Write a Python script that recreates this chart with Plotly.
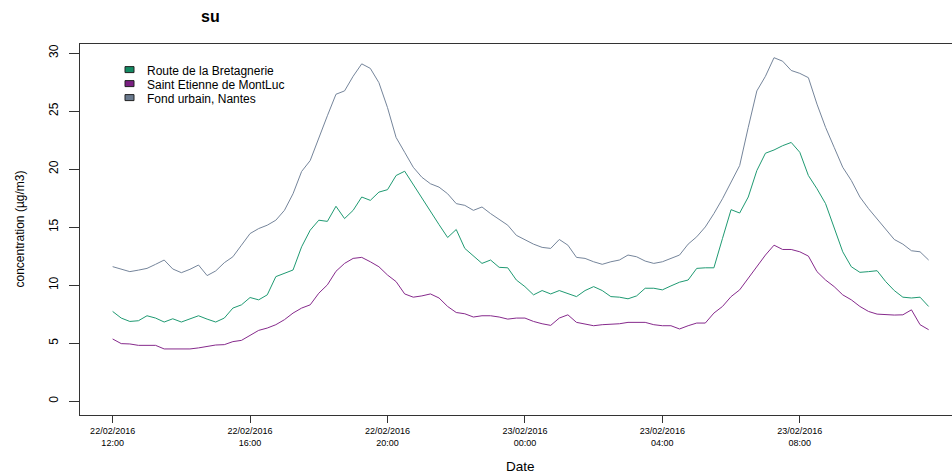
import pandas as pd
import plotly.graph_objects as go

# 15-minute concentrations, 22/02/2016 12:00 -> 23/02/2016 11:45
times = pd.date_range("2016-02-22 12:00", periods=96, freq="15min")

route_bretagnerie = [
    7.74, 7.17, 6.88, 6.94, 7.37, 7.17, 6.83, 7.11, 6.83, 7.08,
    7.37, 7.08, 6.83, 7.17, 8.03, 8.31, 8.94, 8.74, 9.17, 10.74,
    11.03, 11.31, 13.31, 14.74, 15.6, 15.5, 16.8, 15.74, 16.45, 17.6,
    17.31, 18.02, 18.23, 19.45, 19.82, 18.65, 17.54, 16.39, 15.22, 14.11,
    14.8, 13.17, 12.51, 11.88, 12.17, 11.54, 11.5, 10.45, 9.88, 9.17,
    9.54, 9.25, 9.54, 9.25, 9.02, 9.54, 9.88, 9.54, 9.02, 8.97,
    8.83, 9.08, 9.74, 9.74, 9.6, 9.94, 10.26, 10.45, 11.45, 11.5,
    11.5, 14.03, 16.51, 16.22, 17.6, 19.88, 21.37, 21.65, 22.02, 22.3,
    21.45, 19.45, 18.31, 17.03, 15.02, 12.88, 11.59, 11.11, 11.17, 11.25,
    10.31, 9.54, 8.97, 8.9, 8.97, 8.17,
]
saint_etienne = [
    5.37, 4.97, 4.94, 4.82, 4.82, 4.82, 4.51, 4.51, 4.57, 4.51,
    4.6, 4.74, 4.85, 4.88, 5.14, 5.25, 5.65, 6.11, 6.31, 6.6,
    7.03, 7.6, 8.03, 8.31, 9.31, 10.03, 11.2, 11.88, 12.31, 12.4,
    12.02, 11.59, 10.88, 10.31, 9.25, 8.97, 9.08, 9.25, 8.9, 8.17,
    7.65, 7.54, 7.26, 7.37, 7.37, 7.26, 7.08, 7.17, 7.17, 6.88,
    6.68, 6.54, 7.17, 7.45, 6.8, 6.68, 6.51, 6.6, 6.63, 6.68,
    6.8, 6.82, 6.8, 6.6, 6.51, 6.51, 6.23, 6.51, 6.74, 6.74,
    7.6, 8.17, 9.02, 9.6, 10.6, 11.59, 12.6, 13.45, 13.08, 13.08,
    12.88, 12.51, 11.17, 10.45, 9.88, 9.17, 8.74, 8.17, 7.74, 7.51,
    7.45, 7.43, 7.45, 7.88, 6.6, 6.17,
]
fond_urbain = [
    11.6, 11.37, 11.17, 11.3, 11.45, 11.8, 12.17, 11.4, 11.08, 11.37,
    11.74, 10.83, 11.23, 11.94, 12.45, 13.45, 14.45, 14.88, 15.17, 15.6,
    16.45, 17.88, 19.8, 20.74, 22.73, 24.6, 26.45, 26.74, 28.0, 29.07,
    28.68, 27.45, 25.3, 22.73, 21.45, 20.16, 19.3, 18.74, 18.45, 17.88,
    17.03, 16.88, 16.45, 16.74, 16.17, 15.65, 15.17, 14.3, 13.94, 13.54,
    13.26, 13.17, 13.94, 13.45, 12.4, 12.31, 12.02, 11.8, 12.02, 12.17,
    12.6, 12.45, 12.08, 11.88, 12.02, 12.31, 12.6, 13.54, 14.17, 15.02,
    16.17, 17.45, 18.88, 20.31, 23.6, 26.74, 28.0, 29.6, 29.3, 28.5,
    28.25, 27.88, 25.6, 23.6, 21.88, 20.16, 19.02, 17.6, 16.6, 15.74,
    14.88, 13.94, 13.54, 12.97, 12.88, 12.17,
]

series_names = ["Route de la Bretagnerie", "Saint Etienne de MontLuc", "Fond urbain, Nantes"]
series_values = [route_bretagnerie, saint_etienne, fond_urbain]
series_colors = ["#1f9a72", "#862a8c", "#75859b"]
legend_fill = ["#138a63", "#7a1f82", "#6a7a8e"]

tick_times = pd.date_range("2016-02-22 12:00", periods=6, freq="4h")
tick_labels = [t.strftime("%d/%m/%Y") + "<br>" + t.strftime("%H:%M") for t in tick_times]
y_ticks = [0, 5, 10, 15, 20, 25, 30]

FONT = "Liberation Sans, Arial, sans-serif"
AXIS_COLOR = "#333333"

fig = go.Figure()
for name, vals, col in zip(series_names, series_values, series_colors):
    fig.add_trace(go.Scatter(x=times, y=vals, mode="lines", name=name,
                             line=dict(color=col, width=1), showlegend=False))

x_start = times[0] - pd.Timedelta(minutes=57)
x_end = times[0] + pd.Timedelta(hours=24.43)

fig.update_layout(
    width=952, height=473,
    margin=dict(l=80, r=0, t=44, b=58),
    paper_bgcolor="white", plot_bgcolor="white",
    font=dict(family=FONT, color="#000000"),
    xaxis=dict(
        range=[x_start, x_end], tickmode="array", tickvals=tick_times, ticktext=tick_labels,
        showgrid=False, zeroline=False, showline=True, linecolor=AXIS_COLOR, linewidth=1,
        mirror=True, ticks="outside", ticklen=7, tickcolor=AXIS_COLOR, tickwidth=1,
        tickfont=dict(size=9, family=FONT),
    ),
    yaxis=dict(
        range=[-1.18, 30.78], tickmode="array", tickvals=y_ticks, tickangle=-90,
        showgrid=False, zeroline=False, showline=True, linecolor=AXIS_COLOR, linewidth=1,
        ticks="outside", ticklen=10, tickcolor=AXIS_COLOR, tickwidth=1,
        tickfont=dict(size=12, family=FONT), ticklabelstandoff=6,
    ),
)

# Legend drawn as filled squares with labels, top-left inside the panel
row_y = [69.6, 83.6, 97.6]
for name, fill, yc in zip(series_names, legend_fill, row_y):
    fig.add_shape(type="rect", xref="paper", yref="paper",
                  x0=(125 - 80) / 872, x1=(134 - 80) / 872,
                  y0=1 - (yc + 3 - 44) / 371, y1=1 - (yc - 3 - 44) / 371,
                  fillcolor=fill, line=dict(color="#222222", width=1))
    fig.add_annotation(x=(145 - 80) / 872, y=1 - (yc + 1 - 44) / 371, xref="paper", yref="paper",
                       text=name, showarrow=False, xanchor="left", yanchor="middle",
                       font=dict(size=12, family=FONT, color="#000000"))

# Titles
fig.add_annotation(x=(210 - 80) / 872, y=1 + (44 - 17) / 371, xref="paper", yref="paper",
                   text="<b>su</b>", showarrow=False, xanchor="center", yanchor="middle",
                   font=dict(size=16, family=FONT, color="#000000"))
fig.add_annotation(x=(520 - 80) / 872, y=-(466 - 415) / 371, xref="paper", yref="paper",
                   text="Date", showarrow=False, xanchor="center", yanchor="middle",
                   font=dict(size=13.5, family=FONT, color="#000000"))
fig.add_annotation(x=-(80 - 19) / 872, y=0.5, xref="paper", yref="paper",
                   text="concentration (µg/m3)", textangle=-90, showarrow=False,
                   xanchor="center", yanchor="middle",
                   font=dict(size=12, family=FONT, color="#000000"))

fig.write_html("out.html")
